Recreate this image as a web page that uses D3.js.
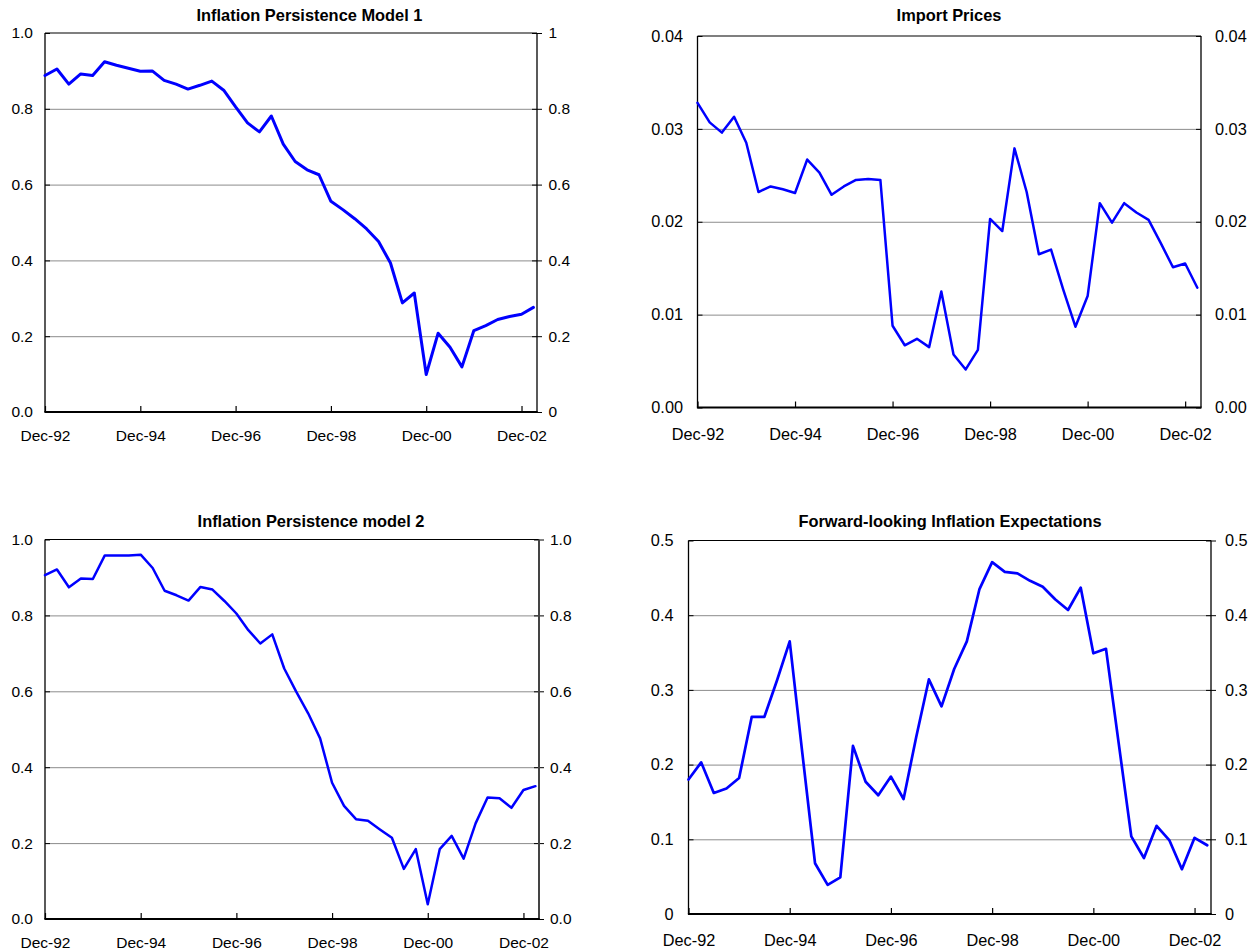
<!DOCTYPE html>
<html>
<head>
<meta charset="utf-8">
<script src="https://cdn.jsdelivr.net/npm/d3@7/dist/d3.min.js"></script>
<style>
  html, body { margin: 0; padding: 0; background: #fff; }
  svg { display: block; font-family: "Liberation Sans", Arial, sans-serif; }
</style>
</head>
<body>
<svg id="chart" width="1258" height="951"></svg>
<script>
// Quarterly observations, Dec-92 to Mar-03
const quarters = [
  "Dec-92", "Mar-93", "Jun-93", "Sep-93", "Dec-93", "Mar-94", "Jun-94", "Sep-94",
  "Dec-94", "Mar-95", "Jun-95", "Sep-95", "Dec-95", "Mar-96", "Jun-96", "Sep-96",
  "Dec-96", "Mar-97", "Jun-97", "Sep-97", "Dec-97", "Mar-98", "Jun-98", "Sep-98",
  "Dec-98", "Mar-99", "Jun-99", "Sep-99", "Dec-99", "Mar-00", "Jun-00", "Sep-00",
  "Dec-00", "Mar-01", "Jun-01", "Sep-01", "Dec-01", "Mar-02", "Jun-02", "Sep-02",
  "Dec-02", "Mar-03"
];

// Labelled quarters on every horizontal axis
const xTickLabels = ["Dec-92", "Dec-94", "Dec-96", "Dec-98", "Dec-00", "Dec-02"];

const persistenceModel1 = [
  0.888, 0.905, 0.865, 0.892, 0.888, 0.924, 0.915, 0.907, 0.899, 0.900,
  0.875, 0.865, 0.852, 0.862, 0.873, 0.849, 0.805, 0.763, 0.739, 0.781,
  0.707, 0.661, 0.639, 0.626, 0.556, 0.534, 0.510, 0.483, 0.450, 0.393,
  0.288, 0.314, 0.099, 0.208, 0.171, 0.119, 0.215, 0.228, 0.244, 0.252,
  0.258, 0.276
];

const importPrices = [
  0.0328, 0.0307, 0.0296, 0.0313, 0.0285, 0.0232, 0.0238, 0.0235, 0.0231, 0.0267,
  0.0253, 0.0229, 0.0238, 0.0245, 0.0246, 0.0245, 0.0088, 0.0067, 0.0074, 0.0065,
  0.0125, 0.0057, 0.0041, 0.0062, 0.0203, 0.0190, 0.0279, 0.0232, 0.0165, 0.0170,
  0.0127, 0.0087, 0.0120, 0.0220, 0.0199, 0.0220, 0.0210, 0.0202, 0.0177, 0.0151,
  0.0155, 0.0129
];

const persistenceModel2 = [
  0.906, 0.921, 0.874, 0.897, 0.896, 0.958, 0.958, 0.958, 0.960, 0.925,
  0.865, 0.853, 0.839, 0.875, 0.868, 0.838, 0.805, 0.761, 0.726, 0.750,
  0.660, 0.599, 0.542, 0.476, 0.359, 0.298, 0.263, 0.259, 0.236, 0.214,
  0.132, 0.184, 0.039, 0.184, 0.219, 0.159, 0.252, 0.320, 0.318, 0.293,
  0.340, 0.350
];

const forwardExpectations = [
  0.180, 0.203, 0.162, 0.168, 0.182, 0.264, 0.264, 0.313, 0.365, 0.215,
  0.068, 0.039, 0.049, 0.225, 0.177, 0.159, 0.184, 0.154, 0.237, 0.314,
  0.278, 0.328, 0.365, 0.435, 0.471, 0.458, 0.456, 0.446, 0.438, 0.421,
  0.407, 0.437, 0.349, 0.355, 0.229, 0.104, 0.075, 0.118, 0.099, 0.060,
  0.102, 0.092
];

// Value-axis ticks for each panel
const ticksUnit = [0, 0.2, 0.4, 0.6, 0.8, 1.0];
const ticksImport = [0, 0.01, 0.02, 0.03, 0.04];
const ticksExpect = [0, 0.1, 0.2, 0.3, 0.4, 0.5];

const fmt1 = d3.format(".1f");
const fmt2 = d3.format(".2f");
const fmtG = d3.format("~g");

// The category axis runs a little past the last observation
const xSpan = 41.3;

const panels = [
  { title: "Inflation Persistence Model 1", values: persistenceModel1, ticks: ticksUnit, max: 1,
    left: 45, right: 537, top: 33, bottom: 412, titleX: 309.5, titleY: 21,
    font: 15.5, lineW: 3, fmtL: fmt1, fmtR: fmtG, labelGapL: 12, labelGapR: 11.5, xPad: 18,
    rightTicks: "cross", rightStroke: "#000", rightW: 1.3 },
  { title: "Import Prices", values: importPrices, ticks: ticksImport, max: 0.04,
    left: 697.5, right: 1201, top: 36, bottom: 407.5, titleX: 949, titleY: 21,
    font: 16.3, lineW: 2.5, fmtL: fmt2, fmtR: fmt2, labelGapL: 14.5, labelGapR: 14, xPad: 20.5,
    rightTicks: "inner", rightStroke: "#000", rightW: 1.3 },
  { title: "Inflation Persistence model 2", values: persistenceModel2, ticks: ticksUnit, max: 1,
    left: 45, right: 539, top: 539.5, bottom: 919, titleX: 311, titleY: 527,
    font: 15.5, lineW: 2.5, fmtL: fmt1, fmtR: fmt1, labelGapL: 12, labelGapR: 11, xPad: 18,
    rightTicks: "cross", rightStroke: "#444", rightW: 2 },
  { title: "Forward-looking Inflation Expectations", values: forwardExpectations, ticks: ticksExpect, max: 0.5,
    left: 688.5, right: 1211, top: 540.5, bottom: 914, titleX: 950, titleY: 527,
    font: 16.3, lineW: 2.7, fmtL: fmtG, fmtR: fmtG, labelGapL: 15, labelGapR: 14, xPad: 20.5,
    rightTicks: "cross", rightStroke: "#000", rightW: 1.3 }
];

const svg = d3.select("#chart");
svg.append("rect").attr("width", 1258).attr("height", 951).attr("fill", "#fff");

panels.forEach(p => {
  const g = svg.append("g");
  const w = p.right - p.left;

  const x = d3.scaleLinear().domain([0, xSpan]).range([p.left, p.right]);
  const y = d3.scaleLinear().domain([0, p.max]).range([p.bottom, p.top]);

  const tickIdx = xTickLabels.map(l => quarters.indexOf(l));
  const innerTicks = p.ticks.filter(t => t > 0 && t < p.max);

  // Horizontal gridlines
  const grid = g.append("g")
    .attr("transform", `translate(${p.left},0)`)
    .call(d3.axisLeft(y).tickValues(innerTicks).tickSize(-w).tickFormat(""));
  grid.select(".domain").remove();
  grid.selectAll("line").attr("stroke", "#8c8c8c").attr("stroke-width", 1);

  // Left value labels with short inward tick marks
  const leftAxis = g.append("g")
    .attr("transform", `translate(${p.left},0)`)
    .call(d3.axisLeft(y).tickValues(p.ticks).tickSize(0).tickPadding(p.labelGapL).tickFormat(p.fmtL));
  leftAxis.select(".domain").remove();
  leftAxis.selectAll("text").attr("font-size", p.font).attr("fill", "#000")
    .attr("font-family", "'Liberation Sans', Arial, sans-serif");
  const leftIn = g.append("g")
    .attr("transform", `translate(${p.left},0)`)
    .call(d3.axisRight(y).tickValues(p.ticks).tickSize(5).tickFormat(""));
  leftIn.select(".domain").remove();
  leftIn.selectAll("line").attr("stroke", "#000");

  // Right value axis
  const rightAxis = g.append("g")
    .attr("transform", `translate(${p.right},0)`)
    .call(d3.axisRight(y).tickValues(p.ticks)
      .tickSize(p.rightTicks === "cross" ? 5 : 0)
      .tickPadding(p.rightTicks === "cross" ? p.labelGapR - 5 : p.labelGapR)
      .tickFormat(p.fmtR));
  rightAxis.select(".domain").remove();
  rightAxis.selectAll("line").attr("stroke", "#000");
  rightAxis.selectAll("text").attr("font-size", p.font).attr("fill", "#000")
    .attr("font-family", "'Liberation Sans', Arial, sans-serif");
  const rightIn = g.append("g")
    .attr("transform", `translate(${p.right},0)`)
    .call(d3.axisLeft(y).tickValues(p.ticks).tickSize(5).tickFormat(""));
  rightIn.select(".domain").remove();
  rightIn.selectAll("line").attr("stroke", "#000");

  // Category axis: ticks point up into the plot
  const xAxis = g.append("g")
    .attr("transform", `translate(0,${p.bottom})`)
    .call(d3.axisBottom(x).tickValues(tickIdx).tickSizeInner(-6).tickSizeOuter(0)
      .tickPadding(p.xPad).tickFormat(i => quarters[i]));
  xAxis.select(".domain").remove();
  xAxis.selectAll("line").attr("stroke", "#000").attr("stroke-width", 1.2);
  xAxis.selectAll("text").attr("font-size", p.font).attr("fill", "#000")
    .attr("font-family", "'Liberation Sans', Arial, sans-serif");

  // Plot frame
  g.append("line").attr("x1", p.left).attr("x2", p.right).attr("y1", p.top).attr("y2", p.top)
    .attr("stroke", "#000").attr("stroke-width", 1.2);
  g.append("line").attr("x1", p.left).attr("x2", p.left).attr("y1", p.top).attr("y2", p.bottom)
    .attr("stroke", "#000").attr("stroke-width", 1.3);
  g.append("line").attr("x1", p.right).attr("x2", p.right).attr("y1", p.top).attr("y2", p.bottom)
    .attr("stroke", p.rightStroke).attr("stroke-width", p.rightW);
  g.append("line").attr("x1", p.left - 0.6).attr("x2", p.right + 0.6).attr("y1", p.bottom).attr("y2", p.bottom)
    .attr("stroke", "#000").attr("stroke-width", 2);

  // Series line
  const line = d3.line().x((d, i) => x(i)).y(d => y(d));
  g.append("path").datum(p.values)
    .attr("d", line)
    .attr("fill", "none")
    .attr("stroke", "#0000ff")
    .attr("stroke-width", p.lineW)
    .attr("stroke-linejoin", "round")
    .attr("stroke-linecap", "round");

  // Panel title
  g.append("text")
    .attr("x", p.titleX).attr("y", p.titleY)
    .attr("text-anchor", "middle")
    .attr("font-weight", "bold")
    .attr("font-size", 16.4)
    .attr("fill", "#000")
    .text(p.title);
});
</script>
</body>
</html>
